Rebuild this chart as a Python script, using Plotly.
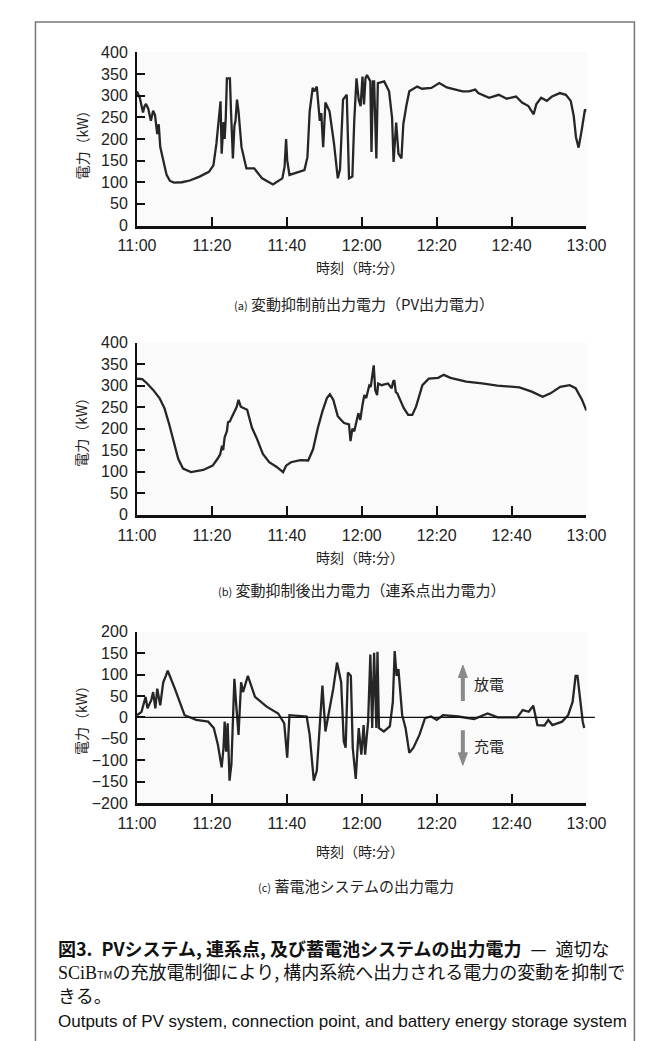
import plotly.graph_objects as go

# ---------------- data (minutes after 11:00, kW) ----------------
tick_vals = [0, 20, 40, 60, 80, 100, 120]
tick_text = ["11:00", "11:20", "11:40", "12:00", "12:20", "12:40", "13:00"]

t_a = [0, 0.75, 1.6, 2.0, 2.4, 3.0, 3.7, 4.3, 4.8, 5.4, 5.8, 6.2, 7.0, 7.9, 8.8, 9.9, 12, 14.1, 16.7,
       19.2, 20.4, 21.2, 21.7, 22.0, 22.3, 22.6, 23.1, 23.4, 23.7, 24.0, 24.8, 25.1, 25.6, 26.0, 26.3,
       26.7, 27.1, 27.9, 28.4, 29.2, 31.3, 33.4, 36.3, 38.8, 39.4, 39.8, 40.1, 40.7, 44.7, 45.5, 46.1,
       46.9, 47.4, 48.0, 48.8, 49.2, 49.7, 50.3, 51.4, 52.6, 53.6, 54.2, 55, 56, 56.6, 57.5, 58, 58.6,
       59.2, 59.7, 60.2, 60.6, 61.0, 61.4, 62.3, 62.6, 63.0, 63.3, 63.9, 64.3, 66, 67.3, 68.1, 68.5,
       69.2, 69.8, 70.6, 71.1, 71.9, 72.7, 74.8, 76.1, 78.6, 80.7, 82.7, 84.5, 86.9, 88.6, 90.3, 91.1,
       94.0, 96.6, 98.7, 101.2, 102.8, 104.5, 105.9, 106.6, 107.9, 109.4, 110.8, 112.9, 114.5, 115.8,
       116.6, 117.2, 117.9, 118.7, 119.6, 120]
v_a = [310, 295, 261, 275, 281, 270, 242, 265, 255, 211, 234, 182, 151, 117, 103, 99, 100, 104, 113,
       124, 139, 189, 234, 260, 287, 166, 239, 200, 250, 340, 340, 264, 155, 230, 242,
       291, 264, 181, 160, 132, 132, 109, 95, 109, 136, 200, 151, 117, 128, 158, 264,
       318, 310, 321, 242, 260, 181, 284, 264, 189, 109, 130, 291, 302, 109, 113, 242, 340,
       290, 276, 344, 280, 340, 348, 333, 170, 333, 333, 155, 329, 333, 310, 249, 147,
       238, 166, 155, 234, 276, 310, 321, 316, 318, 329, 319, 315, 310, 310, 314, 306,
       295, 302, 293, 298, 284, 276, 257, 280, 295, 288, 298, 306, 302, 288,
       253, 204, 180, 219, 268, 264]

t_b = [0, 1.4, 2.7, 4.3, 6, 7.3, 8.5, 9.8, 11, 12.3, 14.4, 17.7, 20.2, 21.5, 22.2, 22.7, 23.0, 23.4,
       24, 24.3, 24.8, 25.2, 26.1, 26.6, 27.1, 27.4, 27.7, 29.4, 30.7, 31.9, 33.6, 35.3, 37.3, 39,
       39.5, 39.8, 41.1, 43.6, 45.7, 47, 48.3, 49.5, 50.7, 51.5, 52.4, 53.6, 54.5, 55.3, 56.6, 57,
       57.5, 58, 59.1, 59.6, 60.2, 60.7, 61.2, 62.0, 62.4, 63.0, 63.2, 63.6, 64.1, 64.4, 65.3, 67,
       68, 68.4, 68.7, 69.1, 69.5, 71.2, 72.4, 73.5, 74.5, 76.2, 77.9, 80.4, 81.9, 83.7, 87.9, 92.1,
       96.2, 102.1, 105.4, 108.3, 110.4, 113, 115.5, 117.1, 118.8, 120]
v_b = [316, 315, 305, 290, 271, 248, 213, 171, 130, 107, 99, 104, 114, 130, 140, 160, 150, 180,
       194, 215, 217, 225, 240, 250, 267, 255, 251, 244, 202, 179, 141, 122, 111, 99,
       108, 114, 122, 127, 126, 152, 202, 240, 271, 280, 267, 229, 220, 213, 210, 171,
       200, 194, 236, 220, 255, 278, 271, 300, 297, 330, 347, 290, 278, 305, 301, 305,
       294, 310, 312, 285, 282, 248, 232, 232, 251, 301, 316, 318, 325, 318, 309, 305,
       300, 296, 286, 274, 282, 297, 301, 294, 267, 242]

t_c = [0, 1.2, 2.3, 2.8, 3.8, 4.3, 4.9, 5.4, 6.2, 7, 7.7, 8.2, 10.1, 12.7, 15.8, 19, 20.5, 21.6,
       22.6, 23.1, 23.4, 23.8, 24.2, 24.7, 25.2, 26, 26.5, 27.1, 27.8, 28.3, 29.6, 31.5, 34.6, 37.7,
       39.3, 40.1, 40.7, 44.5, 45.3, 46.1, 47.2, 48, 48.8, 49.5, 50.3, 51.1, 52.4, 53.4, 54.5, 55.2,
       55.7, 56.3, 57.1, 57.6, 58.4, 59.2, 59.9, 60.5, 60.9, 61.7, 62.3, 62.8, 63.3, 63.9, 64.2, 64.6,
       65.9, 67.5, 68.3, 68.8, 69.3, 69.8, 70.3, 70.8, 71.7, 72.7, 73.8, 75.4, 76.9, 78.5, 80, 81.7,
       85.8, 90, 93.6, 96.3, 101.5, 103, 104.6, 105.8, 106.9, 108.8, 109.8, 110.9, 113.5, 115.1,
       116.3, 117.1, 117.6, 118.4, 119, 119.4]
v_c = [5, 13, 48, 21, 40, 59, 21, 67, 28, 82, 97, 109, 67, 5, -6, -10, -25, -64,
       -117, -71, -10, -80, -14, -148, -110, 90, 28, -41, 82, 59, 97, 48, 25, 9,
       -14, -94, 5, 2, 2, -41, -148, -125, -10, 74, -33, 5, 67, 128, 82, -56,
       -71, 105, 97, -71, -144, -25, -87, -18, -87, -10, 147, -25, 151, -25, 153, -25,
       -33, -21, 36, 155, 97, 113, 67, 5, -25, -83, -71, -41, -2, 2, -6, 5,
       2, -4, 9, 0, 0, 17, 13, 27, -18, -19, -6, -18, -10, 5,
       36, 97, 97, 28, -10, -25]

y_ticks_ab = [0, 50, 100, 150, 200, 250, 300, 350, 400]
y_ticks_c = [-200, -150, -100, -50, 0, 50, 100, 150, 200]

# ---------------- layout helpers ----------------
W, H = 653, 1041
def px(x):
    return x / W
def py(y):
    return 1 - y / H

SANS = "Liberation Sans, Noto Sans CJK JP, sans-serif"
JP = "Noto Sans CJK JP, sans-serif"
LINE = "#262626"
XDOM = [px(117), px(595)]

fig = go.Figure()
fig.add_trace(go.Scatter(x=t_a, y=v_a, mode="lines", line=dict(color=LINE, width=2.3), xaxis="x", yaxis="y"))
fig.add_trace(go.Scatter(x=t_b, y=v_b, mode="lines", line=dict(color=LINE, width=2.3), xaxis="x2", yaxis="y2"))
fig.add_trace(go.Scatter(x=t_c, y=v_c, mode="lines", line=dict(color=LINE, width=2.3), xaxis="x3", yaxis="y3"))

def xaxis(anchor):
    return dict(domain=XDOM, range=[0, 120], tickvals=tick_vals, ticktext=tick_text,
                ticks="inside", ticklen=9, tickwidth=1.5, tickcolor="#111",
                showline=True, linewidth=2.5, linecolor="#111", showgrid=False, zeroline=False,
                tickfont=dict(family=SANS, size=16, color="#222"), anchor=anchor,
                ticklabelstandoff=4, fixedrange=True)

def yaxis(dom, rng, tv, anchor):
    return dict(domain=dom, range=rng, tickvals=tv, ticks="inside", ticklen=8, tickwidth=1.5,
                tickcolor="#111", showline=True, linewidth=2, linecolor="#111", showgrid=False,
                zeroline=False, tickfont=dict(family=SANS, size=16, color="#222"), anchor=anchor,
                ticklabelstandoff=4, fixedrange=True)

fig.update_layout(
    width=W, height=H, margin=dict(l=0, r=0, t=0, b=0),
    paper_bgcolor="white", plot_bgcolor="#fafafa", showlegend=False,
    xaxis=xaxis("y"), yaxis=yaxis([py(213), py(37)], [0, 400], y_ticks_ab, "x"),
    xaxis2=xaxis("y2"), yaxis2=yaxis([py(507), py(332)], [0, 400], y_ticks_ab, "x2"),
    xaxis3=xaxis("y3"), yaxis3=yaxis([py(800), py(626)], [-200, 200], y_ticks_c, "x3"),
)

ARROW = "#8a8a8a"
shapes = [
    # outer border
    dict(type="rect", xref="paper", yref="paper", x0=px(9), x1=px(646), y0=py(1045), y1=py(6),
         line=dict(color="#777", width=1.5)),
    # zero line in panel c
    dict(type="line", xref="x3 domain", yref="y3", x0=0, x1=(604 - 117) / (595 - 117), y0=0, y1=0,
         line=dict(color="#111", width=1.2)),
    # discharge arrow (up)
    dict(type="line", xref="x3", yref="y3", x0=87, x1=87, y0=38, y1=95, line=dict(color=ARROW, width=4)),
    dict(type="path", xref="x3", yref="y3", path="M 85.8,93 L 88.2,93 L 87,122 Z",
         fillcolor=ARROW, line=dict(color=ARROW, width=1)),
    # charge arrow (down)
    dict(type="line", xref="x3", yref="y3", x0=87, x1=87, y0=-30, y1=-85, line=dict(color=ARROW, width=4)),
    dict(type="path", xref="x3", yref="y3", path="M 85.8,-83 L 88.2,-83 L 87,-112 Z",
         fillcolor=ARROW, line=dict(color=ARROW, width=1)),
]
fig.update_layout(shapes=shapes)

ann = []
def text(x, y, s, size=14, family=JP, xanchor="center", color="#222", angle=0, yanchor="middle"):
    ann.append(dict(x=px(x), y=py(y), xref="paper", yref="paper", text=s, showarrow=False,
                    xanchor=xanchor, yanchor=yanchor, textangle=angle, align="left",
                    font=dict(family=family, size=size, color=color)))

for cy in (128, 420, 713):
    text(58, cy, "電力（kW）", size=14, angle=-90)

for cy in (255, 550, 849):
    text(354, cy, "時刻（時:分）", size=14)

text(358, 292, "<span style='font-size:11px'>(a)</span> 変動抑制前出力電力（PV出力電力）", size=15)
text(356, 583, "<span style='font-size:11px'>(b)</span> 変動抑制後出力電力（連系点出力電力）", size=15)
text(350, 884, "<span style='font-size:11px'>(c)</span> 蓄電池システムの出力電力", size=15)

ann.append(dict(x=89.5, y=80, xref="x3", yref="y3", text="放電", showarrow=False, xanchor="left",
                font=dict(family=JP, size=15, color="#222")))
ann.append(dict(x=89.5, y=-66, xref="x3", yref="y3", text="充電", showarrow=False, xanchor="left",
                font=dict(family=JP, size=15, color="#222")))

# figure caption (one block, three lines)
caption = ("<b>図3.\u2002PVシステム, 連系点, 及び蓄電池システムの出力電力</b>\u2002—\u2002適切な<br>"
           "<span style='font-family:Liberation Serif'>SCiB</span><span style='font-size:11px'>TM</span>"
           "の充放電制御により, 構内系統へ出力される電力の変動を抑制で<br>きる。")
text(31, 932, caption, size=18, xanchor="left", color="#111", yanchor="top")
text(31, 1022, "Outputs of PV system, connection point, and battery energy storage system", size=17,
     family="Liberation Sans Narrow, Liberation Sans, sans-serif", xanchor="left", color="#111")

fig.update_layout(annotations=ann)
fig.write_html("out.html")
